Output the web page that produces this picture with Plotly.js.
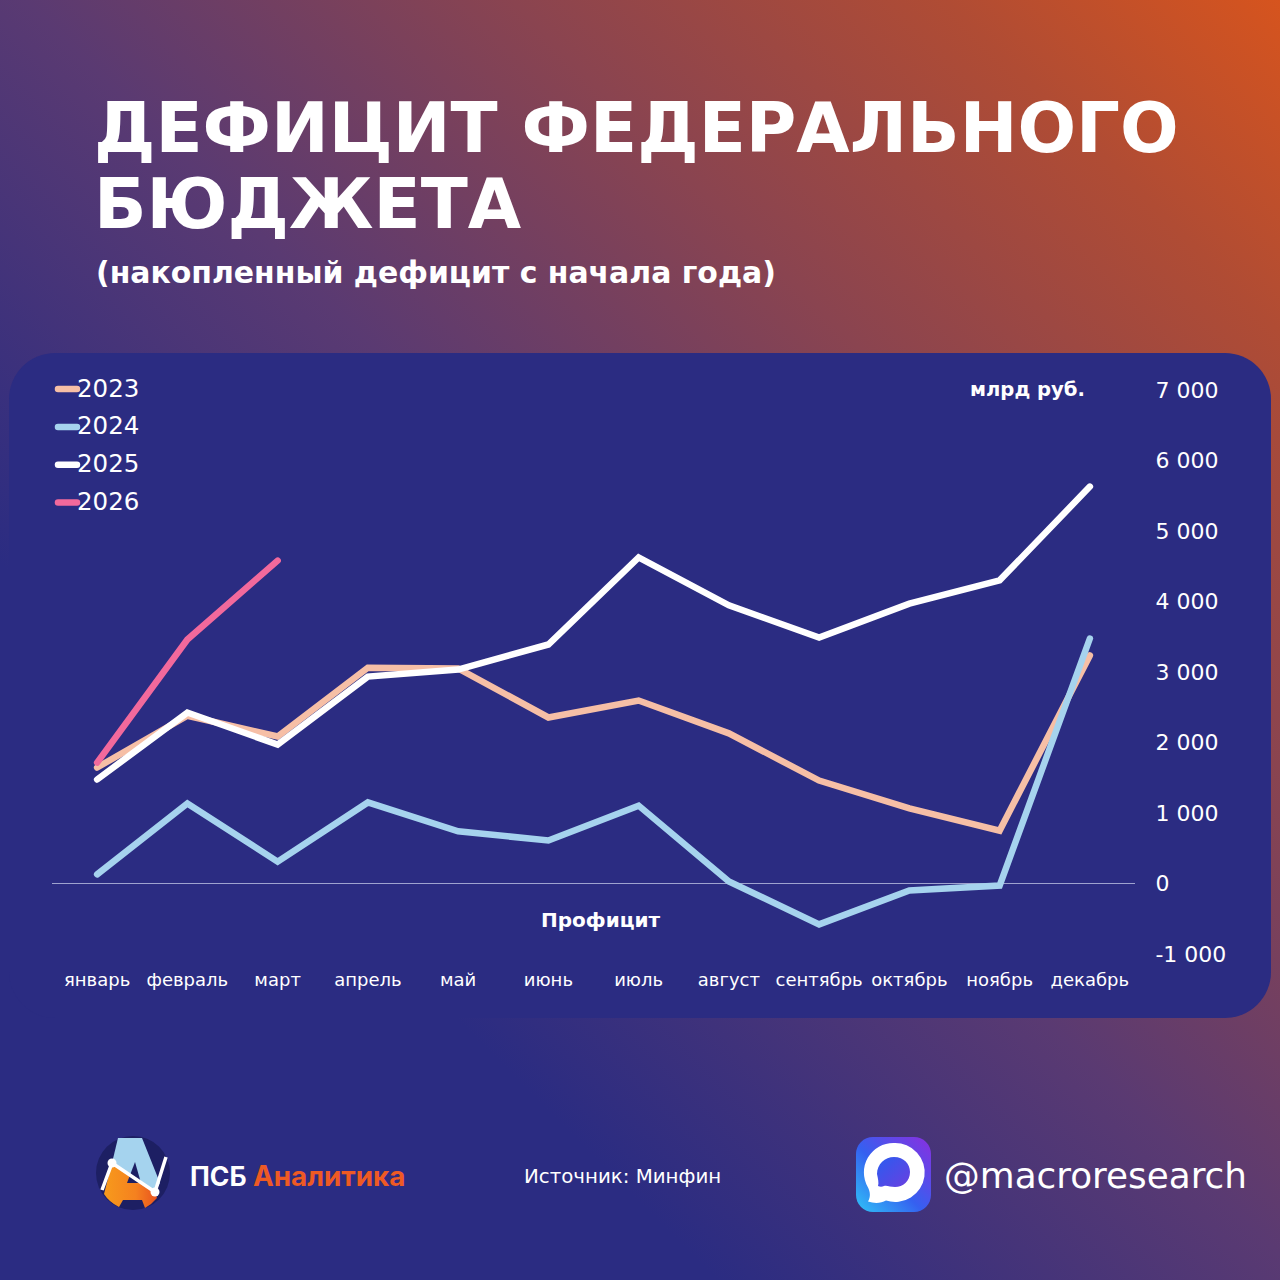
<!DOCTYPE html>
<html><head><meta charset="utf-8">
<script src="https://cdn.plot.ly/plotly-3.0.1.min.js"></script>
<style>
html,body{margin:0;padding:0;width:1280px;height:1280px;overflow:hidden}
body{position:relative;background:linear-gradient(45deg,#2b2c82 0%,#2b2c82 28%,#5a3a72 51%,#8a4450 70%,#b04c34 87%,#d6541e 100%)}
#panel{position:absolute;left:9px;top:353px;width:1262px;height:665px;border-radius:46px;background:#2b2c82}
#chart{position:absolute;left:0;top:0;width:1280px;height:1280px}
#brand,#psb{position:absolute}
.js-line{stroke-linecap:round;stroke-linejoin:miter}
</style></head><body>
<div id="panel"></div>
<div id="chart"></div>
<svg id="psb" style="left:95px;top:1136px" width="76" height="76" viewBox="0 0 76 76">
<defs><linearGradient id="o" x1="0" x2="1"><stop offset="0" stop-color="#f79a1c"/><stop offset=".6" stop-color="#f5811f"/><stop offset="1" stop-color="#e8531f"/></linearGradient></defs>
<circle cx="38" cy="37" r="37" fill="#1d1f63"/>
<path d="M23 2H47L65 47 60 56 17 27Z" fill="#a5d3ee"/>
<path d="M17 27L60 56 62 62Q57 68 50 72L47 64H28L24 71Q14 66 9 58Z" fill="url(#o)"/>
<path d="M40 26L32 47H46Z" fill="#1d1f63"/>
<path d="M7 54L17 27 60 56 71 21" fill="none" stroke="#fff" stroke-width="3.5"/>
<circle cx="17" cy="27" r="4.5" fill="#fff"/><circle cx="60" cy="56" r="4.5" fill="#fff"/>
</svg>
<svg id="brand" style="left:856px;top:1137px" width="75" height="75" viewBox="0 0 75 75">
<defs>
<linearGradient id="b" x1="0" y1="1" x2="1" y2="0"><stop offset="0" stop-color="#2fc4f7"/><stop offset=".45" stop-color="#3560f0"/><stop offset="1" stop-color="#8a2fe0"/></linearGradient>
<linearGradient id="c" x1="0" y1="0" x2="1" y2="1"><stop offset="0" stop-color="#2a5cf0"/><stop offset="1" stop-color="#6a3fe0"/></linearGradient>
</defs>
<rect width="75" height="75" rx="17" fill="url(#b)"/>
<path d="M38 6a29.500 29.500 0 1 1-8 57.500c-5 3-12 3-18 1 3-5 2-10 0-14A29.500 29.500 0 0 1 38 6z" fill="#fff"/>
<path d="M38 20c10 0 16 7 16 15 0 9-7 15-15 15-5 0-8-2-11-1-2 1-4 1-6 0 1-3 0-7-1-12 0-10 8-17 17-17z" fill="url(#c)"/>
</svg>
<script>
var months = ['январь','февраль','март','апрель','май','июнь','июль','август','сентябрь','октябрь','ноябрь','декабрь'];
var y2023 = [1645,2380,2085,3060,3050,2355,2595,2130,1460,1065,750,3235];
var y2024 = [130,1135,310,1150,740,610,1105,30,-580,-100,-30,3475];
var y2025 = [1475,2425,1970,2935,3035,3390,4625,3945,3490,3970,4300,5630];
var y2026 = [1715,3460,4580];
var tickVals = [-1000,0,1000,2000,3000,4000,5000,6000,7000];
var tickText = ['-1 000','0','1 000','2 000','3 000','4 000','5 000','6 000','7 000'];
var F = 'DejaVu Sans';
function tr(name,y,color){return {type:'scatter',mode:'lines',name:name,legendgroup:name,x:months.slice(0,y.length),y:y,line:{color:color,width:6.5,shape:'linear'},hoverinfo:'skip'};}
var data=[tr('2023',y2023,'#f6bfa6'),tr('2024',y2024,'#a6d3ee'),tr('2025',y2025,'#ffffff'),tr('2026',y2026,'#f2699c')];
function note(text,x,y,size,bold,color,anchor,fam){return {text:bold?'<b>'+text+'</b>':text,xref:'paper',yref:'paper',x:(x-52)/1083,y:(954-y)/564,xanchor:anchor||'left',yanchor:'middle',showarrow:false,font:{family:fam||F,size:size,color:color||'#fff'}};}
var layout={
 width:1280,height:1280,paper_bgcolor:'rgba(0,0,0,0)',plot_bgcolor:'rgba(0,0,0,0)',
 margin:{l:52,r:145,t:390,b:326,pad:0},
 title:{text:'<b>ДЕФИЦИТ ФЕДЕРАЛЬНОГО<br>БЮДЖЕТА</b>',x:94/1280,xanchor:'left',y:1-152/1280,yanchor:'middle',font:{family:F,size:69,color:'#fff'}},
 xaxis:{type:'category',categoryorder:'array',categoryarray:months,range:[-0.5,11.5],showgrid:false,zeroline:false,showline:false,ticks:'outside',ticklen:9,tickcolor:'rgba(0,0,0,0)',tickfont:{family:F,size:18,color:'#fff'},tickangle:0,automargin:false,fixedrange:true},
 yaxis:{range:[-1000,7000],side:'right',tickmode:'array',tickvals:tickVals,ticktext:tickText,showgrid:false,showline:false,zeroline:true,zerolinecolor:'#9fa3cf',zerolinewidth:1,ticks:'outside',ticklen:15,tickcolor:'rgba(0,0,0,0)',tickfont:{family:F,size:22,color:'#fff'},automargin:false,fixedrange:true},
 showlegend:true,
 legend:{x:(37-52)/1083,xanchor:'left',y:1.045,yanchor:'top',orientation:'v',bgcolor:'rgba(0,0,0,0)',font:{family:F,size:24.5,color:'#fff'},itemwidth:30,tracegroupgap:3,traceorder:'grouped',itemclick:false,itemdoubleclick:false},
 annotations:[
  note('(накопленный дефицит с начала года)',94,272,29.9,true),
  note('млрд руб.',1087,389,19.6,true,'#fff','right'),
  note('Профицит',600,920,20,true,'#fff','center'),
  note('Источник: Минфин',522,1176,19.8,false),
  note('ПСБ',188,1176,26.5,true,'#fff','left','Inter'),
  note('Аналитика',251,1176,27.8,true,'#ee5a24','left','Inter'),
  note('@macroresearch',942,1175,35.8,false)
 ]
};
Plotly.newPlot('chart',data,layout,{displayModeBar:false}).then(function(){
 document.querySelectorAll('.legendlines path').forEach(function(p){p.setAttribute('d','M21,2h19');p.style.strokeLinecap='round';});
 document.querySelectorAll('.gtitle tspan.line').forEach(function(t,i){ if(i===1) t.setAttribute('dy','1.1em'); });
});
</script></body></html>
